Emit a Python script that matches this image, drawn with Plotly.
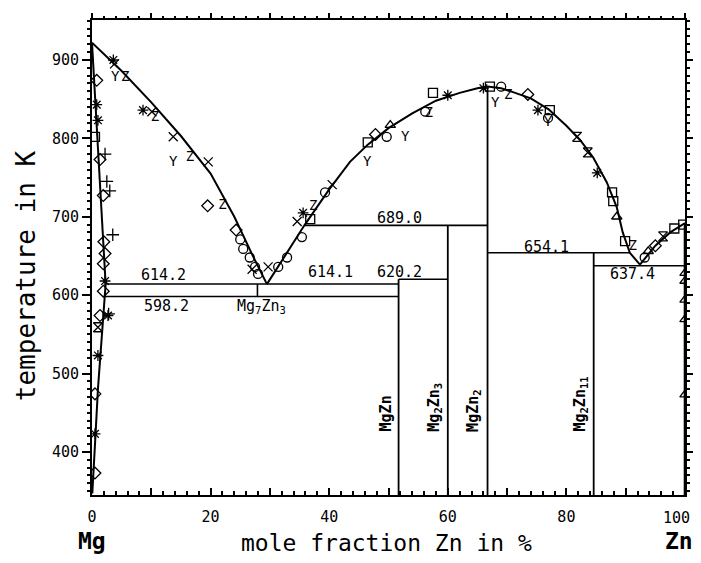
import plotly.graph_objects as go

# ---- phase boundary lines (mole fraction Zn in %, temperature in K) ----
liq_mg_x = [0, 5, 10, 15, 20, 24, 27, 29.5]
liq_mg_t = [922, 886, 846, 803, 755, 700, 652, 614]

liq_mid_x = [29.5, 31.5, 33.5, 35.9, 40, 43.5, 46.5, 50, 54, 58, 62, 65, 66.7,
             69, 71, 74, 77, 80, 82.3, 84.5, 86.8, 88.5, 89.5, 90.7, 92.4]
liq_mid_t = [614, 638, 662, 690, 735, 770, 792, 813, 832, 848, 858, 864, 866,
             864, 859, 851, 837, 816, 798, 776, 744, 712, 680, 654, 639]

liq_zn_x = [92.4, 95, 97.5, 100]
liq_zn_t = [639, 663, 680, 692]

solidus_x = [0, 2.3]
solidus_t = [922, 614]
solvus_x = [2.3, 1.7, 1.0, 0.6, 0.25, 0.05]
solvus_t = [614, 550, 480, 423, 373, 347]

# invariant reactions: (T, x_start, x_end, label, label_x, label_T)
invariants = [
    (614.2, 2.3, 29.5, "614.2", 12.0, 626),
    (598.2, 2.2, 51.7, "598.2", 12.6, 586),
    (614.1, 29.5, 51.7, "614.1", 40.2, 629),
    (620.2, 51.7, 60.0, "620.2", 51.9, 629),
    (689.0, 35.9, 66.7, "689.0", 51.9, 699),
    (654.1, 66.7, 90.7, "654.1", 76.7, 662),
    (637.4, 84.6, 100, "637.4", 91.2, 627),
]

# compounds: (x, T_top, label)
compounds = [
    (51.7, 620.2, "MgZn"),
    (60.0, 689.0, "Mg<sub>2</sub>Zn<sub>3</sub>"),
    (66.7, 866, "MgZn<sub>2</sub>"),
    (84.6, 654.1, "Mg<sub>2</sub>Zn<sub>11</sub>"),
]
zn_x, zn_top = 100, 692
mg7zn3_x = 27.9
t_bottom = 345

x_tick_vals = list(range(0, 101, 10))
x_tick_text = ["0", "", "20", "", "40", "", "60", "", "80", "", ""]
last_tick_text = "100"

# ---- experimental points ----
dia_x = [0.8, 1.35, 1.9, 2.0, 2.2, 1.9, 1.9, 1.35, 0.5, 0.5, 19.5, 24.3, 73.5, 47.8, 95.0]
dia_t = [874, 773, 727, 668, 653, 640, 605, 574, 474, 373, 714, 683, 856, 805, 663]
ast_x = [3.6, 0.8, 1.0, 2.2, 2.7, 1.0, 0.5, 8.6, 35.6, 60.0, 66.0, 75.2, 85.2]
ast_t = [900, 843, 823, 618, 574, 523, 423, 836, 705, 855, 864, 836, 756]
plus_x = [2.2, 2.5, 3.0, 3.5, 2.8]
plus_t = [780, 745, 733, 677, 576]
x_x = [13.7, 19.6, 27.0, 29.7, 34.6, 40.5, 10.1, 3.8]
x_t = [802, 770, 633, 636, 694, 741, 834, 895]
circ_x = [25.0, 25.5, 26.6, 27.5, 28.0, 31.4, 32.9, 35.4, 39.3, 49.7, 56.2, 69.0, 76.9, 93.2]
circ_t = [671, 659, 648, 636, 627, 636, 648, 674, 731, 802, 834, 866, 826, 648]
sq_x = [36.8, 46.5, 57.5, 67.1, 77.2, 87.7, 87.9, 89.9, 99.7, 0.5, 98.2]
sq_t = [697, 795, 858, 866, 836, 731, 720, 669, 690, 802, 685]
tri_x = [100, 100, 100, 100, 100, 88.5, 50.3, 93.8]
tri_t = [628, 618, 594, 569, 473, 700, 817, 656]
hg_x = [81.8, 83.6, 1.0, 96.3]
hg_t = [802, 782, 559, 675]
y_x = [3.9, 13.7, 46.4, 52.8, 68.0, 76.9]
y_t = [878, 769, 769, 801, 845, 820]
z_x = [5.6, 10.6, 16.5, 22.0, 37.3, 56.8, 70.2, 91.2]
z_t = [878, 826, 775, 714, 713, 832, 855, 662]

FONT = "DejaVu Sans Mono"
LW = 2

fig = go.Figure()


def add_line(xs, ts, w=LW):
    fig.add_trace(go.Scatter(x=xs, y=ts, mode="lines",
                             line=dict(color="black", width=w),
                             hoverinfo="skip", showlegend=False))


add_line(liq_mg_x, liq_mg_t)
add_line(liq_mid_x, liq_mid_t)
add_line(liq_zn_x, liq_zn_t)
add_line(solidus_x, solidus_t)
add_line(solvus_x, solvus_t)

for t, x0, x1, lab, lx, lt in invariants:
    add_line([x0, x1], [t, t], 1.6)

for cx, ctop, lab in compounds:
    add_line([cx, cx], [t_bottom, ctop], 1.8)
add_line([zn_x, zn_x], [t_bottom, zn_top], 2.6)
add_line([mg7zn3_x, mg7zn3_x], [598.2, 614.2], 1.6)

for xs, ts, sym in [(dia_x, dia_t, "diamond-open"),
                    (ast_x, ast_t, "asterisk-open"),
                    (plus_x, plus_t, "cross-thin-open"),
                    (x_x, x_t, "x-thin-open"),
                    (circ_x, circ_t, "circle-open"),
                    (sq_x, sq_t, "square-open"),
                    (tri_x, tri_t, "triangle-up-open"),
                    (hg_x, hg_t, "hourglass-open")]:
    fig.add_trace(go.Scatter(x=xs, y=ts, mode="markers", showlegend=False,
                             marker=dict(symbol=sym, size=9, color="black",
                                         line=dict(color="black", width=1.3))))

for xs, ts, ch in [(y_x, y_t, "Y"), (z_x, z_t, "Z")]:
    fig.add_trace(go.Scatter(x=xs, y=ts, mode="text", text=[ch] * len(xs),
                             textfont=dict(family=FONT, size=14, color="black"),
                             showlegend=False))

# top axis with outward ticks
fig.add_trace(go.Scatter(x=[0, 100], y=[None, None], xaxis="x2", showlegend=False))

ann = []
for t, x0, x1, lab, lx, lt in invariants:
    ann.append(dict(x=lx, y=lt, text=lab, showarrow=False,
                    font=dict(family=FONT, size=15, color="black")))
for cx, ctop, lab in compounds:
    ann.append(dict(x=cx, y=423, text="<b>" + lab + "</b>", textangle=-90,
                    showarrow=False, xanchor="right", yanchor="bottom", xshift=-2,
                    font=dict(family=FONT, size=15, color="black")))
ann.append(dict(x=28.6, y=600, text="Mg<sub>7</sub>Zn<sub>3</sub>", showarrow=False,
                yanchor="top", font=dict(family=FONT, size=15, color="black")))


def paper_text(x, y, text, size, angle=0, xanchor="center"):
    ann.append(dict(xref="paper", yref="paper", x=x, y=y, text=text,
                    xanchor=xanchor, yanchor="middle", textangle=angle,
                    showarrow=False, font=dict(family=FONT, size=size, color="black")))


# last x tick label kept inside the visible page edge
paper_text(1.012, -0.049, last_tick_text, 15, xanchor="right")
paper_text(0.497, -0.1, "mole fraction Zn in %", 23)
paper_text(0.0, -0.097, "<b>Mg</b>", 23)
paper_text(0.99, -0.097, "<b>Zn</b>", 23)
paper_text(-0.111, 0.461, "temperature in K", 26, -90)

# the page body adds an 8 px margin; keep the figure height inside the window
fig.update_layout(
    width=693, height=547,
    margin=dict(l=84, r=16, t=12, b=60, autoexpand=False),
    paper_bgcolor="white", plot_bgcolor="white",
    annotations=ann,
    xaxis=dict(range=[0, 100], tickvals=x_tick_vals, ticktext=x_tick_text,
               ticks="inside", ticklen=7, tickwidth=1.5, tickcolor="black",
               minor=dict(dtick=2, ticks="inside", ticklen=4, tickcolor="black"),
               showline=True, linecolor="black", linewidth=2, mirror=True,
               showgrid=False, zeroline=False, automargin=False,
               ticklabelstandoff=7,
               tickfont=dict(family=FONT, size=15, color="black")),
    xaxis2=dict(range=[0, 100], overlaying="x", side="top", dtick=10,
                ticks="outside", ticklen=6, tickwidth=1.5, tickcolor="black",
                minor=dict(dtick=2, ticks="outside", ticklen=3, tickcolor="black"),
                showticklabels=False, showgrid=False, zeroline=False, automargin=False),
    yaxis=dict(range=[345, 951], dtick=100, tick0=0,
               ticks="outside", ticklen=8, tickwidth=1.5, tickcolor="black",
               minor=dict(dtick=10, ticks="outside", ticklen=3, tickcolor="black"),
               showline=True, linecolor="black", linewidth=2, mirror="ticks",
               showgrid=False, zeroline=False, automargin=False,
               tickfont=dict(family=FONT, size=15, color="black")),
)

fig.write_html("out.html")
